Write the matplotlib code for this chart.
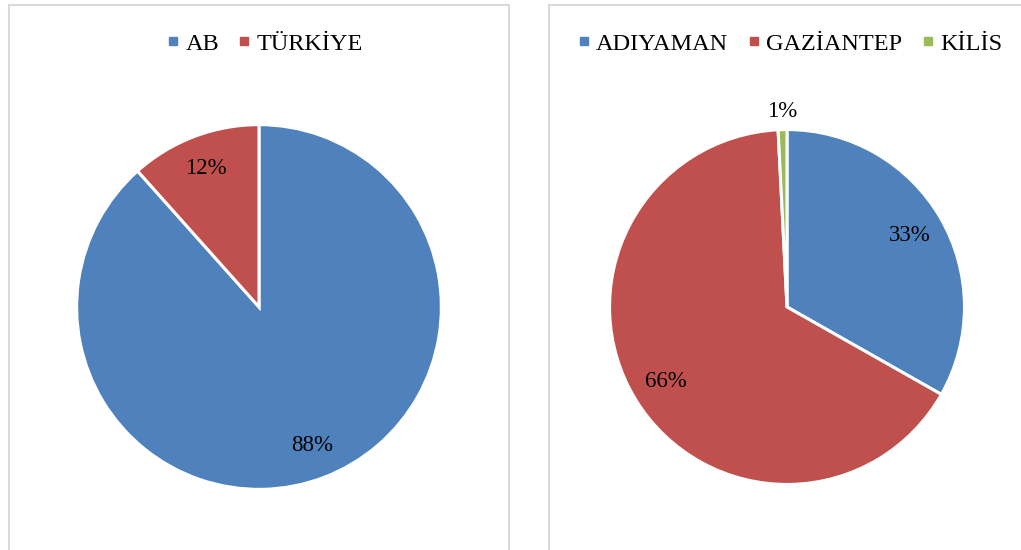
import matplotlib.pyplot as plt
from matplotlib.patches import Rectangle
from matplotlib.lines import Line2D

# data
left_labels = ["AB", "TÜRKİYE"]
left_values = [88.4, 11.6]
right_labels = ["ADIYAMAN", "GAZİANTEP", "KİLİS"]
right_values = [33.2, 66.0, 0.8]

colors = ["#4F81BD", "#C0504D", "#9BBB59"]

plt.rcParams['font.family'] = ['Liberation Serif', 'DejaVu Serif']

W, H = 1021, 550
fig = plt.figure(figsize=(W / 100, H / 100), dpi=100)


def px_axes(cx, cy, r):
    # square axes centred at pixel (cx, cy) from top-left, radius r in pixels
    return fig.add_axes([(cx - r) / W, 1 - (cy + r) / H, 2 * r / W, 2 * r / H])


# panel frames
for x0, x1 in [(9, 509), (549, 1030)]:
    fig.add_artist(Rectangle((x0 / W, -0.05), (x1 - x0) / W, (H - 5) / H + 0.05,
                             transform=fig.transFigure, fill=False,
                             edgecolor="#d9d9d9", lw=1.5))


def draw(ax, values, labels, pctd):
    wedges, texts, autotexts = ax.pie(
        values, colors=colors[:len(values)], startangle=90, counterclock=False,
        autopct=lambda p: f"{p:.0f}%", pctdistance=pctd, radius=1,
        wedgeprops=dict(edgecolor="white", linewidth=2.2),
        textprops=dict(fontsize=16.5, color="black"))
    ax.set_xlim(-1.02, 1.02)
    ax.set_ylim(-1.02, 1.02)
    ax.set_aspect("equal")
    ax.axis("off")
    return autotexts


ax1 = px_axes(259, 307, 186)
draw(ax1, left_values, left_labels, 0.81)

ax2 = px_axes(787, 307, 181)
at = draw(ax2, right_values, right_labels, 0.80)
# small slice label sits outside the pie
x, y = at[2].get_position()
at[2].set_position((x * 1.1 / 0.8, y * 1.1 / 0.8))


def legend(labels, cx):
    handles = [Line2D([], [], marker="s", linestyle="none", markersize=6,
                      color=c) for c in colors[:len(labels)]]
    fig.legend(handles, labels, loc="center", bbox_to_anchor=(cx / W, 1 - 44 / H),
               ncol=len(labels), frameon=False, fontsize=17.5, handlelength=0.5,
               handletextpad=0.25, columnspacing=0.8)


legend(left_labels, 265)
legend(right_labels, 790)

fig.savefig("out.png", dpi=100)
